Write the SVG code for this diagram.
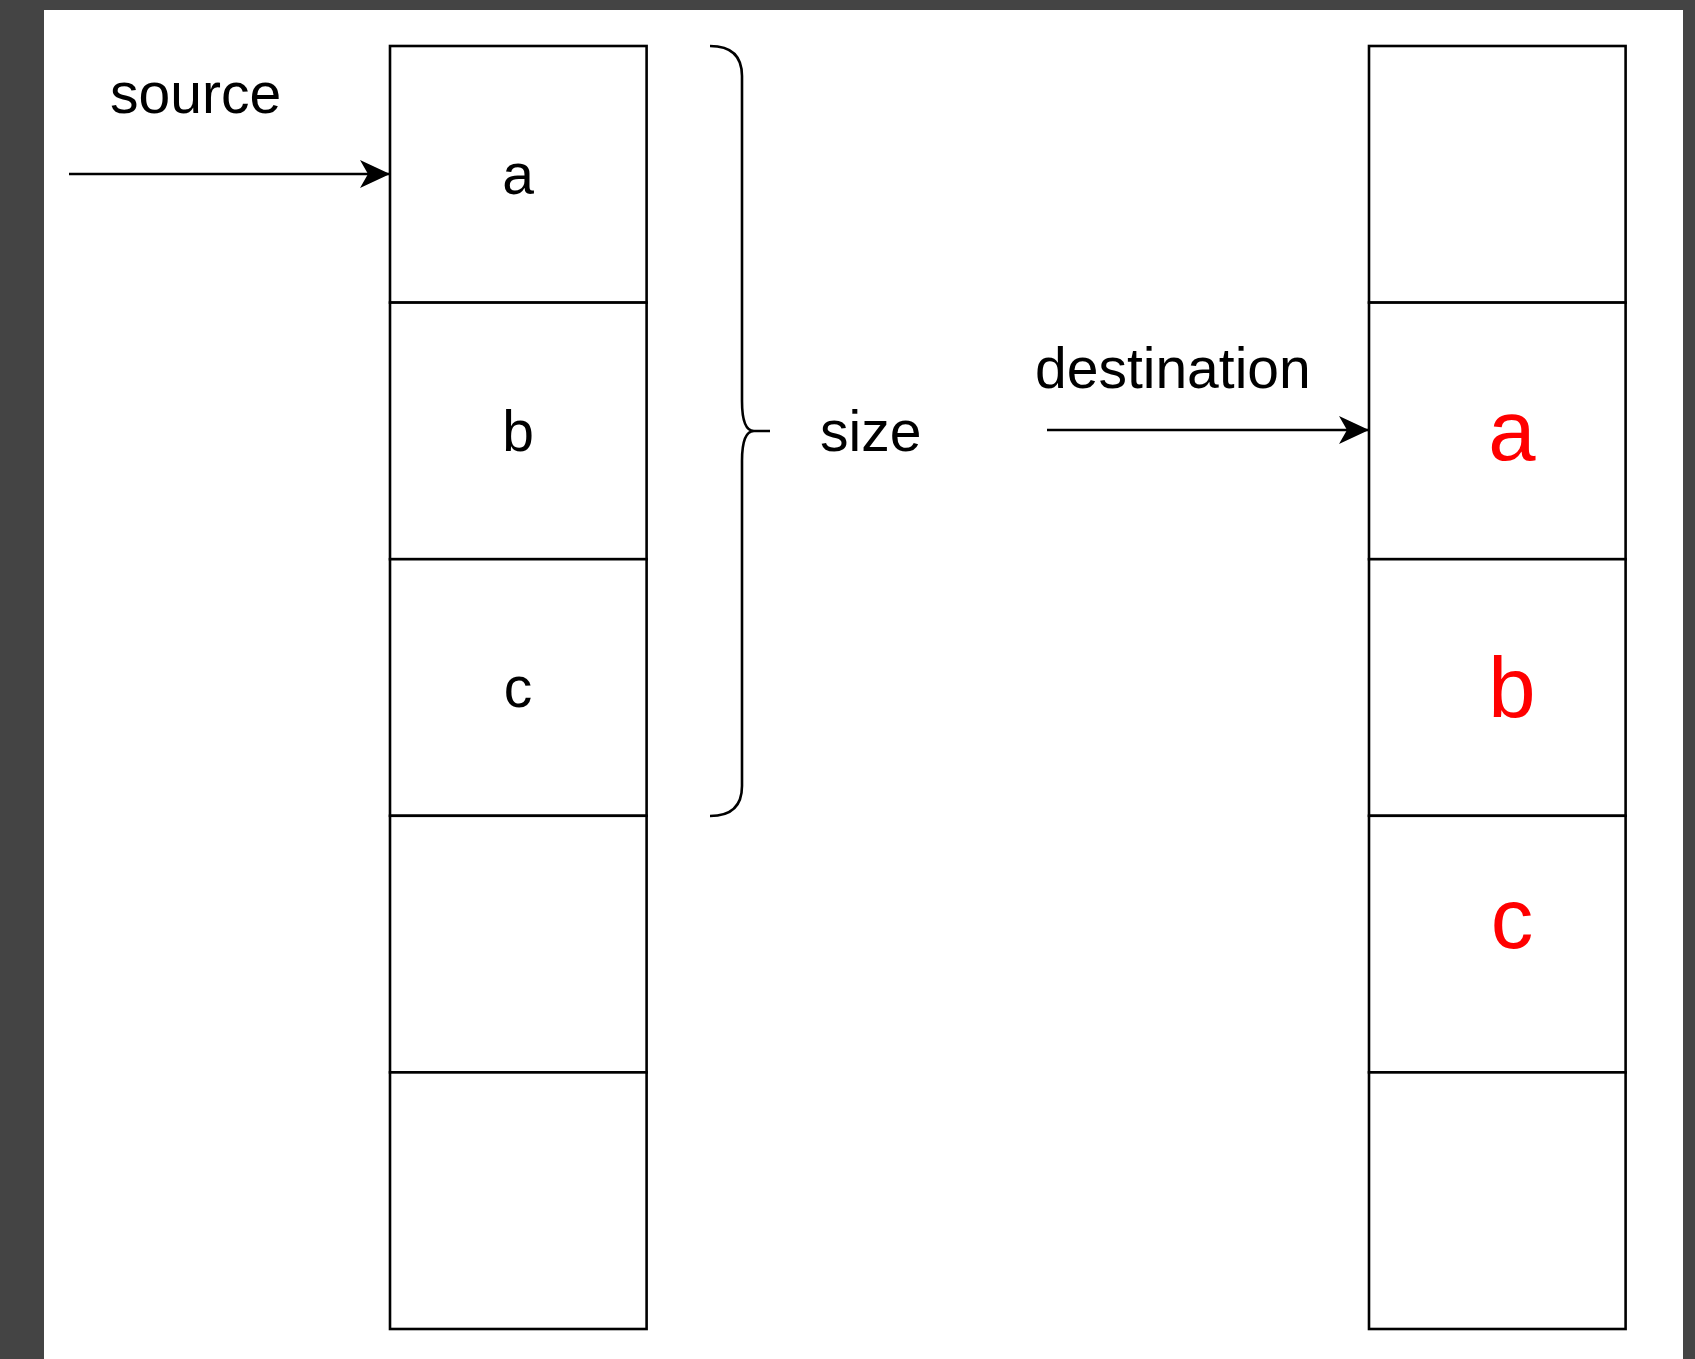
<svg xmlns="http://www.w3.org/2000/svg" width="1695" height="1359" viewBox="0 0 1695 1359">
  <defs>
    <style>
      .cell { fill: #ffffff; stroke: #000000; stroke-width: 2.6; }
      .wire { fill: none; stroke: #000000; stroke-width: 2.6; }
      .lbl { font-family: "Liberation Sans", Arial, Helvetica, sans-serif; font-size: 57px; fill: #000000; }
      .mid { text-anchor: middle; }
      .hot { font-family: "Liberation Sans", Arial, Helvetica, sans-serif; font-size: 85px; fill: #ff0000; text-anchor: middle; }
    </style>
    <marker id="arrow" markerUnits="userSpaceOnUse" markerWidth="31" markerHeight="30" viewBox="0 0 31 30" refX="30" refY="14" orient="auto">
      <path d="M0,0 L30,14 L0,28 L8,14 Z" fill="#000000"/>
    </marker>
  </defs>

  <!-- canvas -->
  <rect x="0" y="0" width="1695" height="1359" fill="#444444"/>
  <rect x="44" y="10" width="1639" height="1349" fill="#ffffff"/>

  <!-- source buffer -->
  <g id="src-0"><rect class="cell" x="390" y="46" width="256.6" height="256.6"/><text class="lbl mid" x="518" y="194">a</text></g>
  <g id="src-1"><rect class="cell" x="390" y="302.6" width="256.6" height="256.6"/><text class="lbl mid" x="518" y="451">b</text></g>
  <g id="src-2"><rect class="cell" x="390" y="559.2" width="256.6" height="256.6"/><text class="lbl mid" x="518" y="707">c</text></g>
  <g id="src-3"><rect class="cell" x="390" y="815.8" width="256.6" height="256.6"/></g>
  <g id="src-4"><rect class="cell" x="390" y="1072.4" width="256.6" height="256.6"/></g>

  <!-- destination buffer -->
  <g id="dst-0"><rect class="cell" x="1369" y="46" width="256.6" height="256.6"/></g>
  <g id="dst-1"><rect class="cell" x="1369" y="302.6" width="256.6" height="256.6"/><text class="hot" x="1512" y="460">a</text></g>
  <g id="dst-2"><rect class="cell" x="1369" y="559.2" width="256.6" height="256.6"/><text class="hot" x="1512" y="717">b</text></g>
  <g id="dst-3"><rect class="cell" x="1369" y="815.8" width="256.6" height="256.6"/><text class="hot" x="1512" y="948">c</text></g>
  <g id="dst-4"><rect class="cell" x="1369" y="1072.4" width="256.6" height="256.6"/></g>

  <!-- labels -->
  <g id="source-label"><text class="lbl" x="110" y="113">source</text></g>
  <g id="destination-label"><text class="lbl" x="1035" y="388">destination</text></g>
  <g id="size-label"><text class="lbl" x="820" y="451">size</text></g>

  <!-- size brace over the first three source cells -->
  <g id="size-brace">
    <path class="wire" d="M710,46 Q742,46 742,76 L742,401 Q742,431 754,431 L770,431 M754,431 Q742,431 742,461 L742,786 Q742,816 710,816"/>
  </g>

  <!-- pointers -->
  <g id="connectors">
    <line class="wire" x1="69" y1="174" x2="390" y2="174" marker-end="url(#arrow)"/>
    <line class="wire" x1="1047" y1="430" x2="1369" y2="430" marker-end="url(#arrow)"/>
  </g>
</svg>
